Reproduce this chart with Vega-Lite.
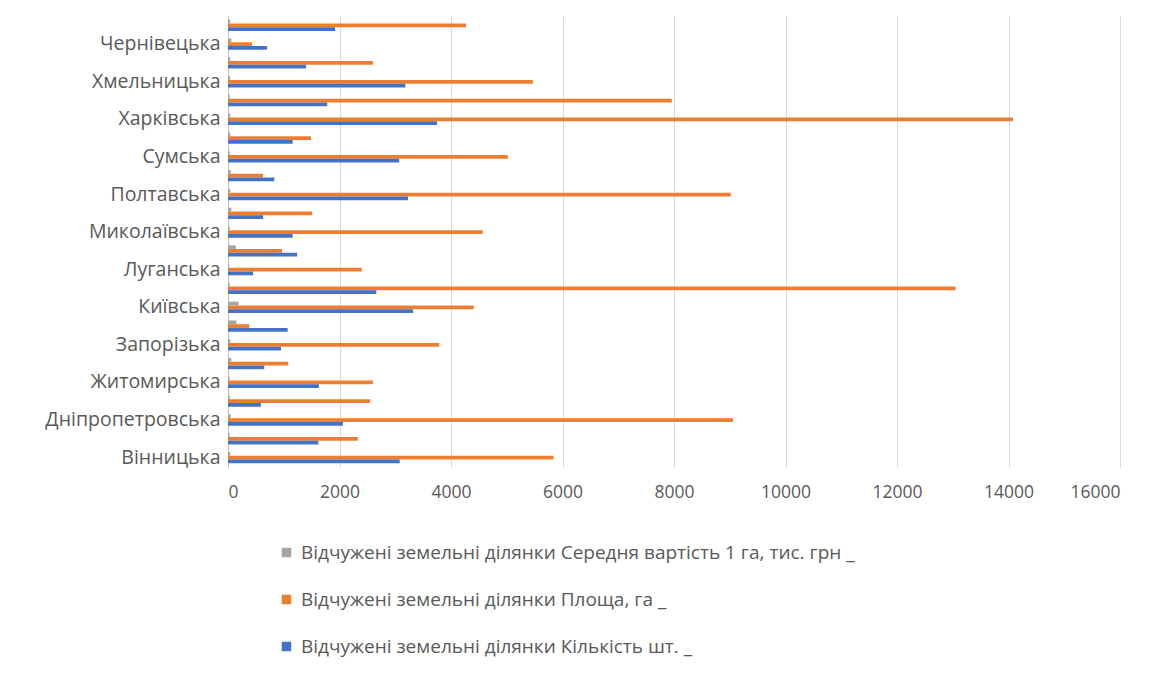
{
  "$schema": "https://vega.github.io/schema/vega-lite/v6.json",
  "width": 892,
  "height": 451,
  "autosize": "none",
  "padding": {"left": 228, "top": 16, "right": 47, "bottom": 208},
  "background": "white",
  "config": {
    "font": "Open Sans",
    "view": {"stroke": null}
  },
  "data": {
    "values": [
      {"region": "Вінницька", "K": 3080, "P": 5840, "V": 40},
      {"region": "Волинська", "K": 1620, "P": 2330, "V": 30},
      {"region": "Дніпропетровська", "K": 2060, "P": 9060, "V": 50},
      {"region": "Донецька", "K": 590, "P": 2550, "V": 30},
      {"region": "Житомирська", "K": 1630, "P": 2600, "V": 30},
      {"region": "Закарпатська", "K": 650, "P": 1080, "V": 60},
      {"region": "Запорізька", "K": 950, "P": 3790, "V": 40},
      {"region": "Івано-Франківська", "K": 1070, "P": 380, "V": 150},
      {"region": "Київська", "K": 3320, "P": 4410, "V": 190},
      {"region": "Кіровоградська", "K": 2660, "P": 13050, "V": 30},
      {"region": "Луганська", "K": 450, "P": 2400, "V": 20},
      {"region": "Львівська", "K": 1240, "P": 970, "V": 140},
      {"region": "Миколаївська", "K": 1160, "P": 4570, "V": 30},
      {"region": "Одеська", "K": 630, "P": 1510, "V": 60},
      {"region": "Полтавська", "K": 3230, "P": 9020, "V": 40},
      {"region": "Рівненська", "K": 830, "P": 630, "V": 50},
      {"region": "Сумська", "K": 3070, "P": 5020, "V": 30},
      {"region": "Тернопільська", "K": 1160, "P": 1490, "V": 40},
      {"region": "Харківська", "K": 3750, "P": 14080, "V": 40},
      {"region": "Херсонська", "K": 1780, "P": 7960, "V": 30},
      {"region": "Хмельницька", "K": 3180, "P": 5470, "V": 40},
      {"region": "Черкаська", "K": 1400, "P": 2600, "V": 40},
      {"region": "Чернівецька", "K": 700, "P": 430, "V": 60},
      {"region": "Чернігівська", "K": 1920, "P": 4270, "V": 40}
    ]
  },
  "transform": [
    {"fold": ["V", "P", "K"], "as": ["series", "value"]}
  ],
  "mark": {"type": "bar"},
  "encoding": {
    "y": {
      "field": "region",
      "type": "nominal",
      "sort": ["Чернігівська", "Чернівецька", "Черкаська", "Хмельницька", "Херсонська", "Харківська", "Тернопільська", "Сумська", "Рівненська", "Полтавська", "Одеська", "Миколаївська", "Львівська", "Луганська", "Кіровоградська", "Київська", "Івано-Франківська", "Запорізька", "Закарпатська", "Житомирська", "Донецька", "Дніпропетровська", "Волинська", "Вінницька"],
      "scale": {"paddingInner": 0.4, "paddingOuter": 0.2},
      "axis": {
        "title": null,
        "values": ["Вінницька", "Дніпропетровська", "Житомирська", "Запорізька", "Київська", "Луганська", "Миколаївська", "Полтавська", "Сумська", "Харківська", "Хмельницька", "Чернівецька"],
        "labelFontSize": 19.5,
        "labelColor": "#595959",
        "labelPadding": 8,
        "labelLimit": 0,
        "ticks": false,
        "grid": false,
        "domain": true,
        "domainColor": "#bfbfbf"
      }
    },
    "yOffset": {
      "field": "series",
      "type": "nominal",
      "sort": ["V", "P", "K"],
      "scale": {"paddingInner": 0}
    },
    "x": {
      "field": "value",
      "type": "quantitative",
      "scale": {"domain": [0, 16000]},
      "axis": {
        "title": null,
        "values": [0, 2000, 4000, 6000, 8000, 10000, 12000, 14000, 16000],
        "format": "d",
        "labelFontSize": 17.5,
        "labelColor": "#595959",
        "labelPadding": 16,
        "ticks": false,
        "domain": false,
        "gridColor": "#d9d9d9",
        "gridWidth": 1
      }
    },
    "color": {
      "field": "series",
      "type": "nominal",
      "scale": {"domain": ["V", "P", "K"], "range": ["#a5a5a5", "#ed7d31", "#4472c4"]},
      "legend": {
        "title": null,
        "orient": "none",
        "legendX": 49,
        "legendY": 527,
        "direction": "vertical",
        "symbolType": "square",
        "symbolSize": 90,
        "symbolStrokeWidth": 0,
        "labelFontSize": 19,
        "labelColor": "#595959",
        "labelOffset": 5,
        "labelLimit": 0,
        "rowPadding": 27,
        "labelExpr": "datum.value == 'V' ? 'Відчужені земельні ділянки Середня вартість 1 га, тис. грн _' : datum.value == 'P' ? 'Відчужені земельні ділянки Площа, га _' : 'Відчужені земельні ділянки Кількість шт. _'"
      }
    }
  }
}
